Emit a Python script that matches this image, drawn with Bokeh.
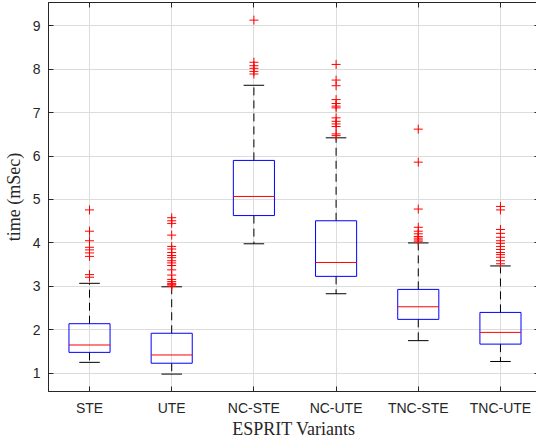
from bokeh.plotting import figure
from bokeh.models import Range1d, FixedTicker, LinearAxis
from bokeh.embed import file_html
from bokeh.resources import INLINE

categories = ["STE", "UTE", "NC-STE", "NC-UTE", "TNC-STE", "TNC-UTE"]
q1 = [1.48, 1.23, 4.63, 3.23, 2.24, 1.67]
median = [1.65, 1.42, 5.07, 3.55, 2.53, 1.94]
q3 = [2.14, 1.92, 5.90, 4.51, 2.93, 2.40]
whisker_low = [1.25, 0.98, 3.98, 2.83, 1.75, 1.27]
whisker_high = [3.07, 2.99, 7.63, 6.42, 4.00, 3.47]
outliers = [
    [4.76, 4.27, 4.05, 3.90, 3.84, 3.77, 3.69, 3.27, 3.21],
    [4.58, 4.51, 4.45, 4.18, 3.92, 3.86, 3.78, 3.71, 3.66, 3.59, 3.54, 3.48,
     3.38, 3.26, 3.16, 3.11, 3.07, 3.05, 3.03, 3.00],
    [9.13, 8.16, 8.08, 8.02, 7.95, 7.89],
    [8.11, 7.75, 7.62, 7.30, 7.21, 7.15, 7.11, 6.88, 6.80, 6.74, 6.68, 6.51, 6.47],
    [6.62, 5.86, 4.78, 4.36, 4.27, 4.21, 4.15, 4.11, 4.07, 4.04],
    [4.84, 4.76, 4.31, 4.22, 4.13, 4.05, 3.99, 3.92, 3.85, 3.78, 3.73, 3.67, 3.59, 3.52],
]
y_ticks = [1, 2, 3, 4, 5, 6, 7, 8, 9]

xs = list(range(1, len(categories) + 1))
box_half = 0.25
cap_half = 0.125

axis_col = "#262626"

p = figure(output_backend="svg", toolbar_location=None,
           frame_width=491, frame_height=389,
           x_range=Range1d(0.501, 6.475), y_range=Range1d(0.579, 9.536),
           min_border_left=43, min_border_right=0, min_border_top=2, min_border_bottom=0,
           background_fill_color="white", border_fill_color="white")
p.outline_line_color = axis_col
p.outline_line_width = 1

# grid
p.xgrid.ticker = FixedTicker(ticks=xs)
p.ygrid.ticker = FixedTicker(ticks=y_ticks)
for g in (p.xgrid, p.ygrid):
    g.grid_line_color = "#dcdcdc"
    g.grid_line_width = 1

# axes
p.xaxis.ticker = FixedTicker(ticks=xs)
p.xaxis.major_label_overrides = {i: c for i, c in zip(xs, categories)}
p.yaxis.ticker = FixedTicker(ticks=y_ticks)
for ax in (p.xaxis, p.yaxis):
    ax.major_tick_in = 5
    ax.major_tick_out = 0
    ax.minor_tick_line_color = None
    ax.axis_line_color = axis_col
    ax.major_tick_line_color = axis_col
    ax.major_label_text_color = axis_col
    ax.major_label_text_font = "Liberation Sans"
    ax.major_label_text_font_size = "14px"
    ax.axis_label_text_font = "Liberation Serif"
    ax.axis_label_text_font_style = "normal"
    ax.axis_label_text_font_size = "18px"
    ax.axis_label_text_color = axis_col
p.xaxis.axis_label = "ESPRIT Variants"
p.yaxis.axis_label = "time (mSec)"
p.xaxis.major_label_standoff = 8
p.xaxis.axis_label_standoff = 0
p.yaxis.major_label_standoff = 8
p.yaxis.axis_label_standoff = 6

# right / top tick-only axes (MATLAB box ticks)
ra = LinearAxis(ticker=FixedTicker(ticks=y_ticks), major_tick_in=5, major_tick_out=0,
                major_label_overrides={t: "" for t in y_ticks}, major_label_standoff=0,
                minor_tick_line_color=None, axis_line_color=axis_col,
                major_tick_line_color=axis_col)
p.add_layout(ra, "right")
ta = LinearAxis(ticker=FixedTicker(ticks=xs), major_tick_in=5, major_tick_out=0,
                major_label_overrides={t: "" for t in xs}, major_label_standoff=0,
                minor_tick_line_color=None, axis_line_color=axis_col,
                major_tick_line_color=axis_col)
p.add_layout(ta, "above")

# whiskers (dashed)
p.segment(x0=xs, y0=q3, x1=xs, y1=whisker_high, line_color="black", line_dash="8 5", line_width=1)
p.segment(x0=xs, y0=q1, x1=xs, y1=whisker_low, line_color="black", line_dash="8 5", line_width=1)
# caps
p.segment(x0=[x - cap_half for x in xs], y0=whisker_high, x1=[x + cap_half for x in xs], y1=whisker_high,
          line_color="black", line_width=1)
p.segment(x0=[x - cap_half for x in xs], y0=whisker_low, x1=[x + cap_half for x in xs], y1=whisker_low,
          line_color="black", line_width=1)
# boxes
p.quad(left=[x - box_half for x in xs], right=[x + box_half for x in xs], bottom=q1, top=q3,
       fill_color=None, line_color="#0000ff", line_width=1)
# medians
p.segment(x0=[x - box_half for x in xs], y0=median, x1=[x + box_half for x in xs], y1=median,
          line_color="#ff0000", line_width=1)
# outliers
ox, oy = [], []
for x, vals in zip(xs, outliers):
    for v in vals:
        ox.append(x)
        oy.append(v)
p.scatter(x=ox, y=oy, marker="cross", size=9, line_color="#ff0000", line_width=1)

open("out.html", "w").write(file_html(p, INLINE))
